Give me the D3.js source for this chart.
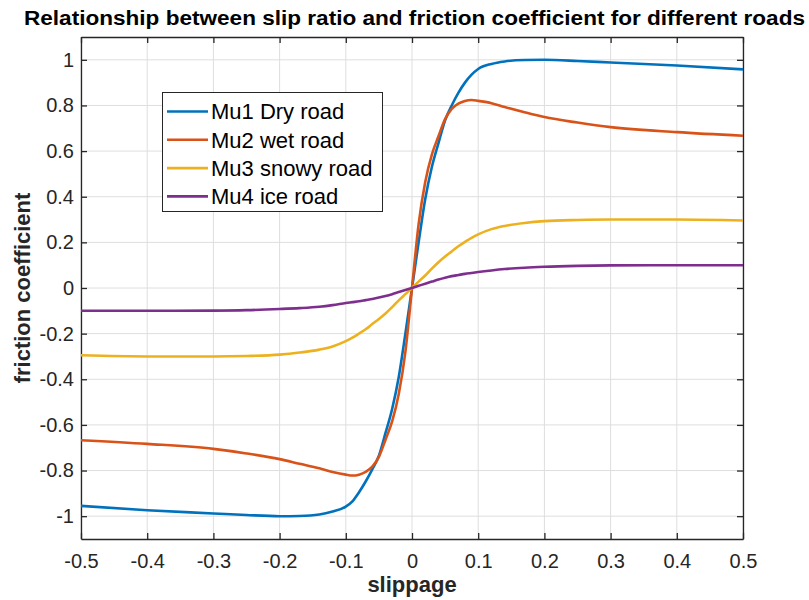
<!DOCTYPE html>
<html>
<head>
<meta charset="utf-8">
<script src="https://cdn.jsdelivr.net/npm/d3@7"></script>
<style>
  body { margin: 0; background: #fff; }
  svg { font-family: "Liberation Sans", Arial, sans-serif; }
</style>
</head>
<body>
<svg id="chart" width="809" height="600"></svg>
<script>
// slip values and friction coefficients
const slip = [-0.5, -0.4, -0.3, -0.25, -0.2, -0.17, -0.14, -0.12, -0.1, -0.09, -0.08, -0.07, -0.06, -0.05, -0.04, -0.03, -0.02, -0.01,
              0, 0.01, 0.02, 0.03, 0.04, 0.05, 0.06, 0.07, 0.08, 0.09, 0.1, 0.12, 0.14, 0.17, 0.2, 0.25, 0.3, 0.4, 0.5];

const muDry = [-0.955, -0.974, -0.988, -0.995, -1.0, -0.999, -0.993, -0.98, -0.958, -0.935, -0.895, -0.848, -0.795, -0.735, -0.635, -0.53, -0.39, -0.2,
               0, 0.2, 0.39, 0.53, 0.635, 0.735, 0.8, 0.855, 0.9, 0.935, 0.96, 0.982, 0.993, 0.999, 1.0, 0.995, 0.988, 0.975, 0.958];
const muWet = [-0.667, -0.683, -0.705, -0.725, -0.75, -0.77, -0.79, -0.806, -0.818, -0.822, -0.818, -0.806, -0.783, -0.74, -0.665, -0.585, -0.465, -0.28,
               0, 0.28, 0.465, 0.585, 0.665, 0.74, 0.785, 0.808, 0.82, 0.824, 0.82, 0.81, 0.793, 0.77, 0.749, 0.725, 0.705, 0.683, 0.667];
const muSnow = [-0.295, -0.3, -0.3, -0.298, -0.292, -0.283, -0.27, -0.256, -0.233, -0.218, -0.2, -0.181, -0.158, -0.136, -0.112, -0.084, -0.054, -0.027,
                0, 0.028, 0.055, 0.085, 0.113, 0.138, 0.16, 0.183, 0.202, 0.22, 0.235, 0.258, 0.272, 0.285, 0.293, 0.298, 0.3, 0.3, 0.296];
const muIce = [-0.1, -0.1, -0.099, -0.097, -0.092, -0.088, -0.082, -0.075, -0.066, -0.062, -0.058, -0.053, -0.048, -0.042, -0.035, -0.027, -0.018, -0.009,
               0, 0.0095, 0.019, 0.028, 0.037, 0.045, 0.052, 0.057, 0.062, 0.066, 0.07, 0.077, 0.083, 0.089, 0.093, 0.097, 0.099, 0.1, 0.1];

const seriesNames = ["Mu1 Dry road", "Mu2 wet road", "Mu3 snowy road", "Mu4 ice road"];
const seriesColors = ["#0072BD", "#D95319", "#EDB120", "#7E2F8E"];

const xTicks = [-0.5, -0.4, -0.3, -0.2, -0.1, 0, 0.1, 0.2, 0.3, 0.4, 0.5];
const xTickLabels = ["-0.5", "-0.4", "-0.3", "-0.2", "-0.1", "0", "0.1", "0.2", "0.3", "0.4", "0.5"];
const yTicks = [-1, -0.8, -0.6, -0.4, -0.2, 0, 0.2, 0.4, 0.6, 0.8, 1];
const yTickLabels = ["-1", "-0.8", "-0.6", "-0.4", "-0.2", "0", "0.2", "0.4", "0.6", "0.8", "1"];

const svg = d3.select("#chart");
const pos = { left: 81, right: 743, top: 37, bottom: 539 };
const axisColor = "#262626";

let x = d3.scaleLinear().domain([-0.5, 0.5]).range([pos.left, pos.right]);
let y = d3.scaleLinear().domain([-1.1, 1.1]).range([pos.bottom, pos.top]);

// grid
let grid = svg.append("g");
grid.selectAll("line.gx").data(xTicks).enter().append("line")
    .attr("x1", d => x(d)).attr("x2", d => x(d))
    .attr("y1", pos.top).attr("y2", pos.bottom)
    .style("stroke", "#dedede").style("stroke-width", 1);
grid.selectAll("line.gy").data(yTicks).enter().append("line")
    .attr("x1", pos.left).attr("x2", pos.right)
    .attr("y1", d => y(d)).attr("y2", d => y(d))
    .style("stroke", "#dedede").style("stroke-width", 1);

// axes (MATLAB box style, ticks inside on all four sides)
const tickLen = 6;
let ax = svg.append("g");
let xAxisG = ax.append("g").attr("transform", `translate(0,${pos.bottom})`)
    .call(d3.axisBottom(x).tickValues(xTicks).tickSizeInner(-tickLen).tickSizeOuter(0)
        .tickFormat((d, i) => xTickLabels[i]));
ax.append("g").attr("transform", `translate(0,${pos.top})`)
    .call(d3.axisTop(x).tickValues(xTicks).tickSizeInner(-tickLen).tickSizeOuter(0).tickFormat(""));
let yAxisG = ax.append("g").attr("transform", `translate(${pos.left},0)`)
    .call(d3.axisLeft(y).tickValues(yTicks).tickSizeInner(-tickLen).tickSizeOuter(0)
        .tickFormat((d, i) => yTickLabels[i]));
ax.append("g").attr("transform", `translate(${pos.right},0)`)
    .call(d3.axisRight(y).tickValues(yTicks).tickSizeInner(-tickLen).tickSizeOuter(0).tickFormat(""));

ax.selectAll(".domain").style("stroke", axisColor).style("stroke-width", 1.3);
ax.selectAll(".tick line").style("stroke", axisColor).style("stroke-width", 1.3);
ax.selectAll(".tick text")
    .style("font-size", "20px")
    .style("font-family", "'Liberation Sans', Arial, sans-serif")
    .style("fill", axisColor);
xAxisG.selectAll(".tick text").attr("y", 11).attr("dy", "0.9em");
yAxisG.selectAll(".tick text").attr("x", -7);

// curves
const allMu = [muDry, muWet, muSnow, muIce];
let line = d3.line()
    .x(d => x(d[0]))
    .y(d => y(d[1]))
    .curve(d3.curveMonotoneX);

svg.append("g")
    .selectAll("path")
    .data(allMu)
    .enter()
    .append("path")
      .attr("d", mu => line(slip.map((s, i) => [s, mu[i]])))
      .style("fill", "none")
      .style("stroke", (d, i) => seriesColors[i])
      .style("stroke-width", 2.6)
      .style("stroke-linejoin", "round");

// legend
let lg = svg.append("g");
lg.append("rect")
    .attr("x", 162.5).attr("y", 92.5)
    .attr("width", 220).attr("height", 119)
    .style("fill", "#fff").style("stroke", axisColor).style("stroke-width", 1);
let items = lg.selectAll("g.item").data(seriesNames).enter().append("g")
    .attr("transform", (d, i) => `translate(0,${111.5 + i * 28.3})`);
items.append("line")
    .attr("x1", 167).attr("x2", 208).attr("y1", 0).attr("y2", 0)
    .style("stroke", (d, i) => seriesColors[i]).style("stroke-width", 2.6);
items.append("text")
    .attr("x", 211).attr("y", 0).attr("dy", "0.36em")
    .style("font-size", "22px").style("fill", "#000")
    .text(d => d);

// title and axis labels
svg.append("text")
    .attr("x", 24).attr("y", 25)
    .attr("textLength", 781).attr("lengthAdjust", "spacingAndGlyphs")
    .style("font-weight", "bold").style("font-size", "20px").style("fill", "#000")
    .text("Relationship between slip ratio and friction coefficient for different roads");
svg.append("text")
    .attr("x", (pos.left + pos.right) / 2).attr("y", 592)
    .attr("text-anchor", "middle")
    .style("font-weight", "bold").style("font-size", "22px").style("fill", axisColor)
    .text("slippage");
svg.append("text")
    .attr("transform", `translate(30,${(pos.top + pos.bottom) / 2}) rotate(-90)`)
    .attr("text-anchor", "middle")
    .style("font-weight", "bold").style("font-size", "22px").style("fill", axisColor)
    .text("friction coefficient");
</script>
</body>
</html>
